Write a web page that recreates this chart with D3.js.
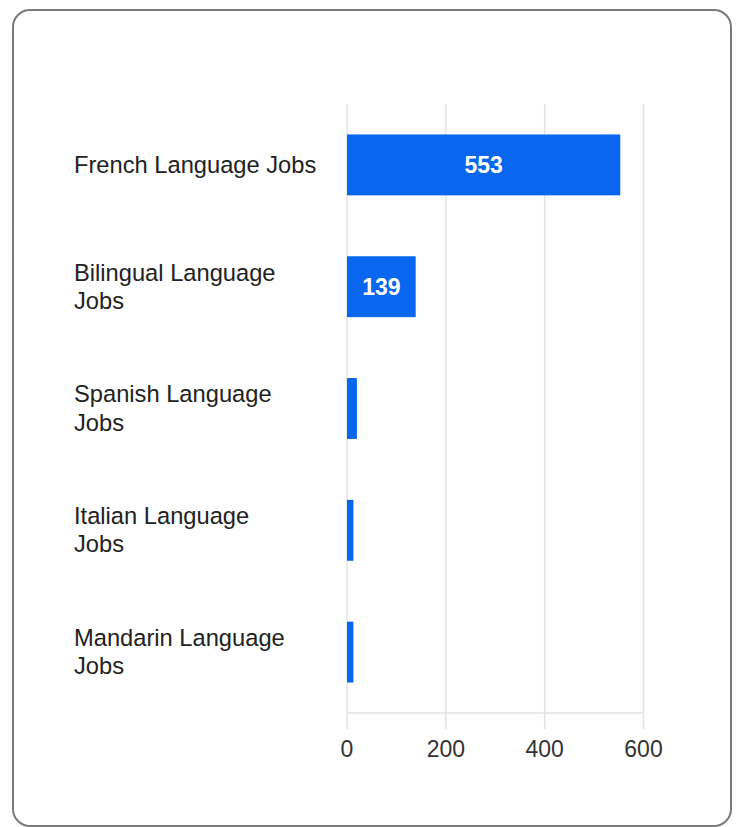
<!DOCTYPE html>
<html>
<head>
<meta charset="utf-8">
<script src="https://cdn.jsdelivr.net/npm/d3@7"></script>
<style>
  body { margin: 0; background: #fff; }
  svg { display: block; font-family: "Liberation Sans", Arial, sans-serif; }
</style>
</head>
<body>
<svg width="737" height="827"></svg>
<script>
// data
var categories = ["French Language Jobs", "Bilingual Language Jobs", "Spanish Language Jobs",
                  "Italian Language Jobs", "Mandarin Language Jobs"];
// how the axis labels are broken into lines in the chart
var labelLines = [["French Language Jobs"], ["Bilingual Language", "Jobs"], ["Spanish Language", "Jobs"],
                  ["Italian Language", "Jobs"], ["Mandarin Language", "Jobs"]];
var jobs = [553, 139, 20, 13, 13];
var ticks = [0, 200, 400, 600];

var svg = d3.select("svg");

// card
svg.append("rect")
  .attr("x", 13).attr("y", 10)
  .attr("width", 718).attr("height", 816)
  .attr("rx", 17)
  .attr("fill", "#fff")
  .attr("stroke", "#7a7a7a")
  .attr("stroke-width", 2);

var x = d3.scaleLinear().domain([0, 600]).range([347, 643.5]);
var y = d3.scaleBand().domain(categories).range([104, 713])
  .paddingInner(0.5).paddingOuter(0.25);

// grid
svg.append("g").selectAll("line")
  .data(ticks)
  .join("line")
  .attr("x1", d => x(d)).attr("x2", d => x(d))
  .attr("y1", 104).attr("y2", 729)
  .attr("stroke", "#e3e3e3").attr("stroke-width", 1.5);

// baseline
svg.append("line")
  .attr("x1", x(0)).attr("x2", x(600))
  .attr("y1", 713).attr("y2", 713)
  .attr("stroke", "#e3e3e3").attr("stroke-width", 1.5);

// tick labels
svg.append("g").selectAll("text")
  .data(ticks)
  .join("text")
  .attr("x", d => x(d)).attr("y", 757)
  .attr("text-anchor", "middle")
  .attr("font-size", 23)
  .attr("fill", "#333")
  .text(d => d);

// bars
svg.append("g").selectAll("rect")
  .data(categories)
  .join("rect")
  .attr("x", x(0))
  .attr("y", d => y(d))
  .attr("width", (d, i) => x(jobs[i]) - x(0))
  .attr("height", y.bandwidth())
  .attr("fill", "#0867ee");

// value labels inside bigger bars
svg.append("g").selectAll("text")
  .data(categories.filter((d, i) => jobs[i] > 100))
  .join("text")
  .attr("x", d => (x(0) + x(jobs[categories.indexOf(d)])) / 2)
  .attr("y", d => y(d) + y.bandwidth() / 2 + 8)
  .attr("text-anchor", "middle")
  .attr("font-size", 23)
  .attr("font-weight", "bold")
  .attr("fill", "#fff")
  .text(d => jobs[categories.indexOf(d)]);

// category labels
var lineH = 28.3;
svg.append("g").selectAll("text")
  .data(categories)
  .join("text")
  .attr("font-size", 23.7)
  .attr("fill", "#222")
  .each(function(d, i) {
    var t = d3.select(this), lines = labelLines[i];
    var cy = y(d) + y.bandwidth() / 2;
    var top = cy - (lines.length - 1) * lineH / 2 + 8;
    lines.forEach(function(l, k) {
      t.append("tspan").attr("x", 74).attr("y", top + k * lineH).text(l);
    });
  });
</script>
</body>
</html>
